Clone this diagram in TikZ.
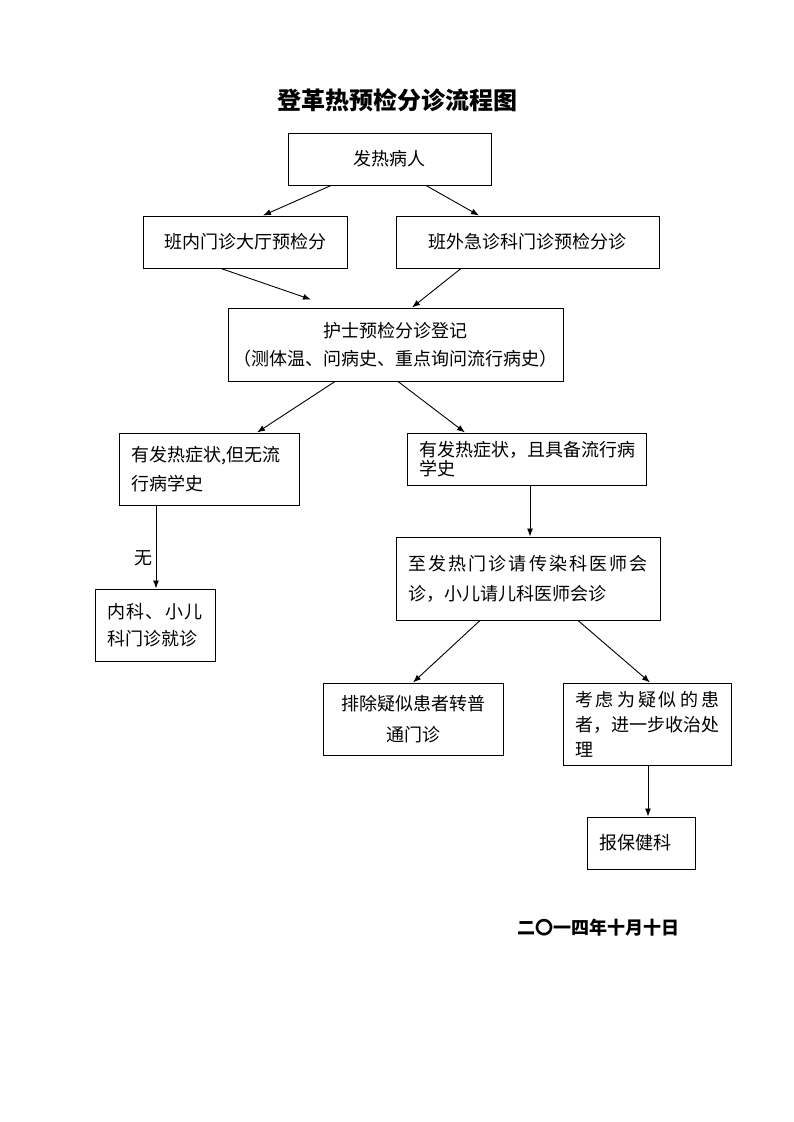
\documentclass[tikz,border=0pt]{standalone}
\usepackage{fontspec}
\setmainfont{Noto Sans CJK SC}
\usepackage{tikz}
\usetikzlibrary{positioning,arrows.meta}
\tikzstyle{block} = [draw, rectangle, line width=1pt, align=center, font=\fontsize{18pt}{28pt}\selectfont]
\tikzstyle{lblock} = [block, align=left, inner xsep=12pt, inner ysep=0pt]
\tikzstyle{heading} = [font=\fontsize{24pt}{28pt}\selectfont\bfseries]
\tikzstyle{conn} = [->, line width=0.9pt]

\begin{document}
\begin{tikzpicture}[auto, node distance=2cm, >={Latex[length=8pt,width=6pt]}]
\useasboundingbox (0,0) rectangle (793pt,-1122pt);

\node [block, minimum width=203pt, minimum height=52pt] (fever) at (389.5pt,-159pt) {发热病人};
\node [heading, above of=fever, node distance=59pt, xshift=7.5pt] (title) {登革热预检分诊流程图};

\node [block, minimum width=204pt, minimum height=52pt, below of=fever, node distance=83pt, xshift=-144.5pt] (inner) {班内门诊大厅预检分};
\node [block, minimum width=263pt, minimum height=52pt, below of=fever, node distance=83pt, xshift=138pt] (outer) {班外急诊科门诊预检分诊};

\node [block, minimum width=335pt, minimum height=73pt, below of=fever, node distance=185.5pt, xshift=6pt] (nurse) {护士预检分诊登记\\（测体温、问病史、重点询问流行病史）};

\node [lblock, text width=156pt, minimum height=72pt, font=\fontsize{18pt}{29pt}\selectfont, below of=nurse, node distance=124.5pt, xshift=-186.5pt] (nohist) {有发热症状,但无流\\行病学史};
\node [lblock, text width=215pt, minimum height=52pt, font=\fontsize{18pt}{19pt}\selectfont, below of=nurse, node distance=114.5pt, xshift=131pt] (hist) {有发热症状，且具备流行病\\学史};

\node [lblock, text width=240pt, minimum height=83pt, font=\fontsize{18pt}{30pt}\selectfont, below of=hist, node distance=119.5pt, xshift=1.5pt] (consult) {\makebox[240pt]{至\hfill 发\hfill 热\hfill 门\hfill 诊\hfill 请\hfill 传\hfill 染\hfill 科\hfill 医\hfill 师\hfill 会}\\诊，小儿请儿科医师会诊};
\node [lblock, text width=96pt, minimum height=72pt, font=\fontsize{18pt}{27pt}\selectfont, below of=nohist, node distance=156pt, xshift=-54pt] (clinic) {\makebox[96pt]{内\hfill 科\hfill 、\hfill 小\hfill 儿}\\科门诊就诊};

\node [block, minimum width=180pt, minimum height=72pt, font=\fontsize{18pt}{31pt}\selectfont, below of=consult, node distance=140.5pt, xshift=-115pt] (exclude) {排除疑似患者转普\\通门诊};
\node [lblock, text width=144pt, minimum height=82pt, font=\fontsize{18pt}{25pt}\selectfont, below of=consult, node distance=145.5pt, xshift=119pt] (suspect) {\makebox[144pt]{考\hfill 虑\hfill 为\hfill 疑\hfill 似\hfill 的\hfill 患}\\\makebox[144pt]{者\hfill ，\hfill 进\hfill 一\hfill 步\hfill 收\hfill 治\hfill 处}\\理};
\node [lblock, text width=84pt, minimum height=52pt, below of=suspect, node distance=119pt, xshift=-6pt] (report) {报保健科};

\node [heading, font=\fontsize{18pt}{22pt}\selectfont\bfseries, below of=report, node distance=85pt, xshift=-43pt] (date) {二〇一四年十月十日};

\draw [conn] ([xshift=-58.5pt]fever.south) -- ([xshift=18pt]inner.north);
\draw [conn] ([xshift=36.5pt]fever.south) -- ([xshift=-48.5pt]outer.north);
\draw [conn] ([xshift=-24pt]inner.south) -- ([xshift=-84.5pt, yshift=8pt]nurse.north);
\draw [conn] ([xshift=-66.5pt]outer.south) -- ([xshift=16.5pt]nurse.north);
\draw [conn] ([xshift=-60.5pt]nurse.south) -- ([xshift=48pt]nohist.north);
\draw [conn] ([xshift=2.5pt]nurse.south) -- ([xshift=-61.5pt]hist.north);
\draw [conn] ([xshift=3.5pt]hist.south) -- ([xshift=2pt]consult.north);
\draw [conn] ([xshift=-53pt]nohist.south) -- node [left, pos=0.63, font=\fontsize{18pt}{22pt}\selectfont] {无} ([xshift=1pt]clinic.north);
\draw [conn] ([xshift=-48pt]consult.south) -- (exclude.north);
\draw [conn] ([xshift=50pt]consult.south) -- ([xshift=3pt]suspect.north);
\draw [conn] ([xshift=1pt]suspect.south) -- ([xshift=7pt]report.north);

\end{tikzpicture}
\end{document}
